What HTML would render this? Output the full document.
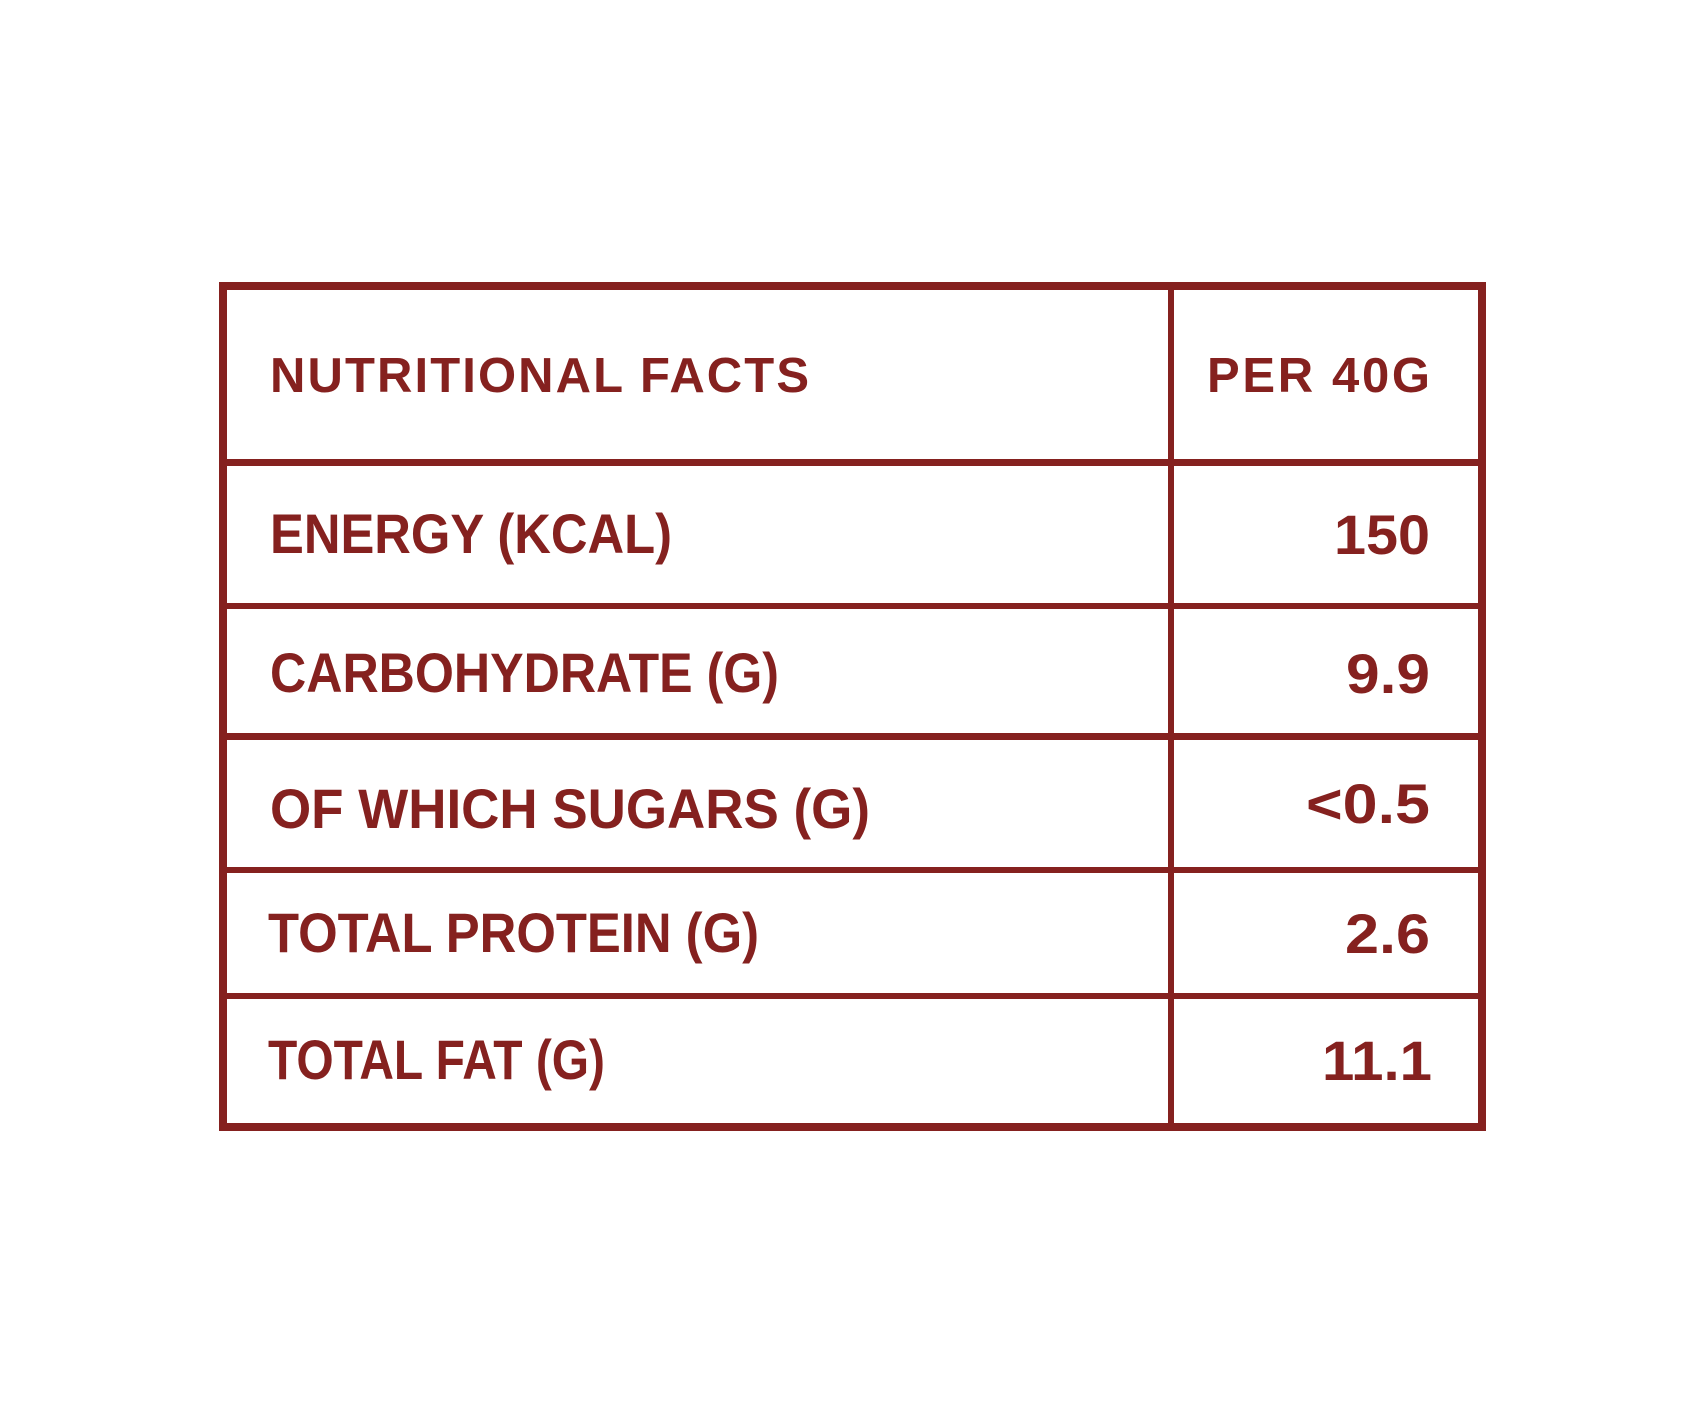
<!DOCTYPE html>
<html>
<head>
<meta charset="utf-8">
<style>
html,body{margin:0;padding:0;background:#ffffff;}
svg{display:block;}
text{font-family:"Liberation Sans",Arial,sans-serif;font-weight:bold;fill:#85211F;}
</style>
</head>
<body>
<svg width="1705" height="1414" viewBox="0 0 1705 1414" xmlns="http://www.w3.org/2000/svg">
<rect x="0" y="0" width="1705" height="1414" fill="#ffffff"/>
<g fill="#85211F">
  <!-- outer border -->
  <rect x="219" y="282" width="1267" height="8"/>
  <rect x="219" y="1123" width="1267" height="8"/>
  <rect x="219" y="282" width="8" height="849"/>
  <rect x="1478" y="282" width="8" height="849"/>
  <!-- column divider -->
  <rect x="1168" y="282" width="6" height="849"/>
  <!-- row lines -->
  <rect x="219" y="459" width="1267" height="7"/>
  <rect x="219" y="603" width="1267" height="6"/>
  <rect x="219" y="733" width="1267" height="7"/>
  <rect x="219" y="867" width="1267" height="6"/>
  <rect x="219" y="993" width="1267" height="6"/>
</g>

<!-- header -->
<text x="270" y="392" font-size="49" textLength="539" lengthAdjust="spacing">NUTRITIONAL FACTS</text>
<text x="1207" y="392" font-size="49" textLength="223" lengthAdjust="spacing">PER 40G</text>

<!-- labels -->
<text x="270" y="553" font-size="56" textLength="402" lengthAdjust="spacingAndGlyphs">ENERGY (KCAL)</text>
<text x="270" y="692" font-size="56" textLength="509" lengthAdjust="spacingAndGlyphs">CARBOHYDRATE (G)</text>
<text x="270" y="828" font-size="56" textLength="600" lengthAdjust="spacingAndGlyphs">OF WHICH SUGARS (G)</text>
<text x="268" y="952" font-size="56" textLength="491" lengthAdjust="spacingAndGlyphs">TOTAL PROTEIN (G)</text>
<text x="268" y="1079" font-size="56" textLength="337" lengthAdjust="spacingAndGlyphs">TOTAL FAT (G)</text>

<!-- values -->
<text x="1334" y="554" font-size="56" textLength="96" lengthAdjust="spacingAndGlyphs">150</text>
<text x="1346" y="693" font-size="56" textLength="84" lengthAdjust="spacingAndGlyphs">9.9</text>
<text x="1306" y="823" font-size="56" textLength="124" lengthAdjust="spacingAndGlyphs">&lt;0.5</text>
<text x="1345" y="953" font-size="56" textLength="85" lengthAdjust="spacingAndGlyphs">2.6</text>
<text x="1322" y="1080" font-size="56" textLength="110" lengthAdjust="spacingAndGlyphs">11.1</text>
</svg>
</body>
</html>
